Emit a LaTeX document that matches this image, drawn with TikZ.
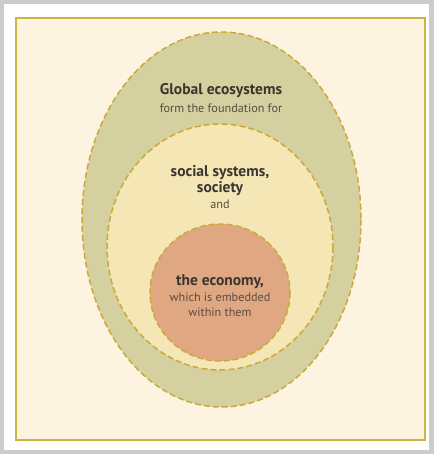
\documentclass[tikz,border=0pt]{standalone}
\usepackage{fontspec}
\setmainfont{PT Sans}
\usepackage{xcolor}
\usepackage{tikz}
\usetikzlibrary{calc}

\definecolor{kertas}{HTML}{FCF4E0}
\definecolor{emas}{HTML}{CDB545}
\definecolor{garis}{HTML}{CCA93A}
\definecolor{ekosistem}{HTML}{D5D09F}
\definecolor{sosial}{HTML}{F4E6B5}
\definecolor{ekonomi}{HTML}{E0A882}
\definecolor{tinta}{HTML}{3B3530}
\definecolor{tintamuda}{HTML}{5C4C42}

\tikzset{
    lapisan/.style={draw=garis, line width=1.5pt, dash pattern=on 6pt off 3pt},
    judul/.style={font=\fontsize{15.5}{17}\selectfont\bfseries, text=tinta, inner sep=0pt},
    ket/.style={font=\fontsize{12.2}{14}\selectfont, text=tintamuda, inner sep=0pt}
}

\begin{document}
\begin{tikzpicture}[x=1pt,y=-1pt]
        \useasboundingbox (0,0) rectangle (433,454);

        %BINGKAI
        \fill[white] (0,0) rectangle (433,454);
        \draw[black!20, line width=8pt] (0,0) rectangle (433,454);
        \draw[emas, line width=2pt, fill=kertas] (16,18) rectangle (424.5,440);

        %LAPISAN
        \draw[lapisan, fill=ekosistem] (221.5,219.5) ellipse (139.5 and 187.5);
        \draw[lapisan, fill=sosial] (220,247) ellipse (113 and 123);
        \draw[lapisan, fill=ekonomi] (220,292.5) ellipse (70 and 68.5);

        %TULISAN
        \node[judul] (eko) at (221,91) {Global ecosystems};
        \node[ket] (ekoket) at (221,108) {form the foundation for};

        \node[judul] (sos) at (220,173) {social systems,};
        \node[judul] (sos2) at (220,189) {society};
        \node[ket] (sosket) at (220,204) {and};

        \node[judul] (ekon) at (220,282) {the economy,};
        \node[ket] (ekonket) at (220,297) {which is embedded};
        \node[ket] (ekonket2) at (220,312) {within them};
    \end{tikzpicture}
\end{document}
